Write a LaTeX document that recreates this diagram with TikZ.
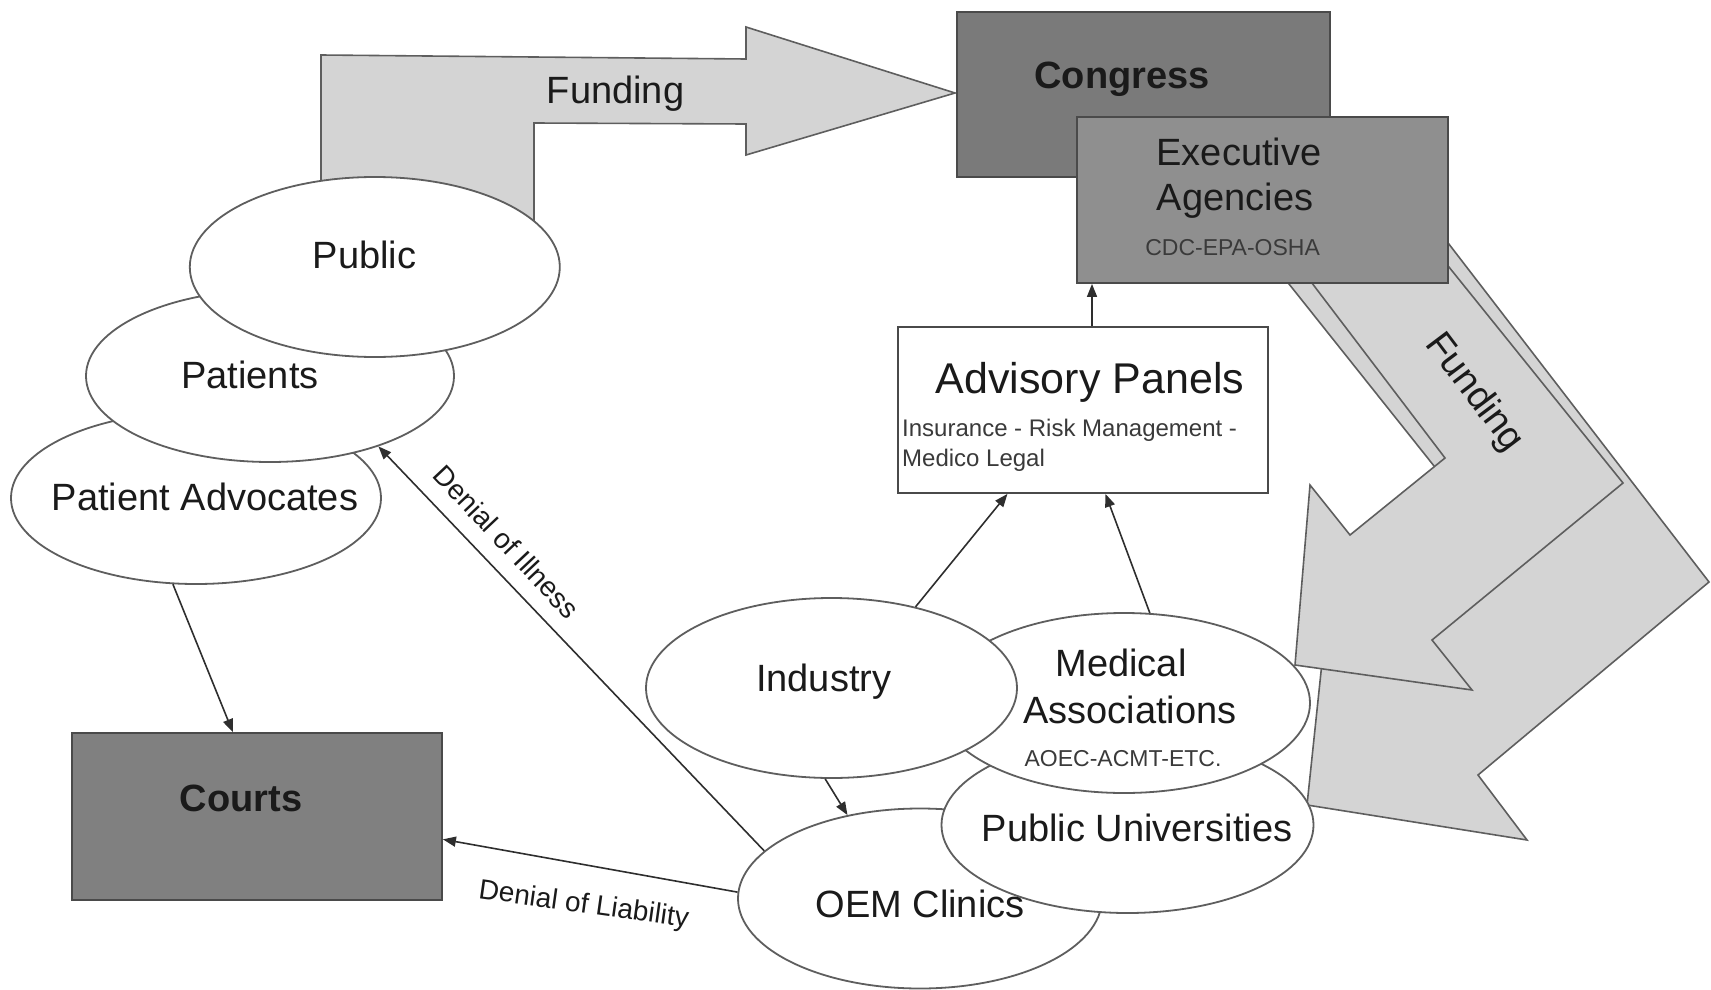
\documentclass[tikz,border=0pt]{standalone}
\usepackage{fontspec}
\setmainfont{Liberation Sans}
\usetikzlibrary{shapes.geometric,arrows.meta}

\definecolor{arrowfill}{HTML}{D4D4D4}
\definecolor{edgegray}{HTML}{5E5E5E}
\definecolor{boxedge}{HTML}{4A4A4A}
\definecolor{congressfill}{HTML}{7A7A7A}
\definecolor{execfill}{HTML}{8F8F8F}
\definecolor{courtsfill}{HTML}{808080}
\definecolor{ink}{HTML}{1A1A1A}
\definecolor{subink}{HTML}{3A3A3A}
\definecolor{linkgray}{HTML}{2E2E2E}

\tikzset{
  flow/.style={fill=arrowfill, draw=edgegray, line width=1.6pt, line join=miter},
  oval/.style 2 args={ellipse, draw=edgegray, fill=white, line width=1.8pt,
    inner sep=0pt, minimum width=#1, minimum height=#2},
  panel/.style 2 args={rectangle, draw=boxedge, line width=1.8pt,
    inner sep=0pt, minimum width=#1, minimum height=#2},
  txt/.style={inner sep=0pt, anchor=base, text=ink, font=\fontsize{38}{40}\selectfont},
  boldtxt/.style={inner sep=0pt, anchor=base, text=ink, font=\fontsize{38}{40}\selectfont\bfseries},
  smalltxt/.style={inner sep=0pt, anchor=base, text=subink, font=\fontsize{23}{25}\selectfont},
  slanttxt/.style={inner sep=0pt, anchor=center, text=ink, font=\fontsize{28}{30}\selectfont},
  link/.style={draw=linkgray, line width=1.6pt, -{Triangle[length=13pt,width=10pt]}},
}

\begin{document}
\begin{tikzpicture}[x=1pt,y=-1pt]
\useasboundingbox (0,0) rectangle (1711,990);

% ---- funding from the public up to Congress (bent block arrow) ----
\draw[flow] (321,240) -- (321,55) -- (746,59) -- (746,27) -- (955,93)
  -- (746,155) -- (746,124) -- (534,123) -- (534,240) -- cycle;
\node[txt] (fundL) at (615.5,103) {Funding};

% ---- funding from the agencies down to the institutions (two block arrows) ----
\draw[flow] (1238,220) -- (1497,545) -- (1379,642) -- (1331,577) -- (1307,805)
  -- (1527,840) -- (1478,775) -- (1709,582) -- (1415,200) -- cycle;
\draw[flow] (1264,220) -- (1445,458) -- (1350,535) -- (1310,485) -- (1295,665)
  -- (1472,690) -- (1432,640) -- (1623,483) -- (1403,210) -- cycle;
\node[txt, anchor=center, rotate=-53] (fundR) at (1474,393) {Funding};

% ---- government boxes ----
\node[panel={373}{165}, fill=congressfill] (congress) at (1143.5,94.5) {};
\node[boldtxt] (congressT) at (1122,88.3) {Congress};
\node[panel={371}{166}, fill=execfill] (exec) at (1262.5,200) {};
\node[txt] (execT1) at (1239,165) {Executive};
\node[txt] (execT2) at (1235,210) {Agencies};
\node[smalltxt] (execT3) at (1232.6,255) {CDC-EPA-OSHA};

% ---- public side ----
\node[oval={370}{172}] (padv) at (196,498) {};
\node[oval={368}{172}] (pat) at (270,376) {};
\node[oval={370}{180}] (public) at (374.8,267) {};
\node[txt] (publicT) at (364.5,268.3) {Public};
\node[txt] (patT) at (250,388.3) {Patients};
\node[txt] (padvT) at (205,510.9) {Patient Advocates};

\node[panel={370}{167}, fill=courtsfill] (courts) at (257,816.5) {};
\node[boldtxt] (courtsT) at (241,811.7) {Courts};

% ---- institutions cluster ----
\node[oval={364}{180}] (oem) at (920,898.5) {};
\node[oval={372}{176}] (univ) at (1127.5,825) {};
\node[oval={372}{180}] (med) at (1124,703) {};
\node[oval={371}{180}] (ind) at (831.5,688) {};
\node[txt] (indT) at (823.7,691.7) {Industry};
\node[txt] (medT1) at (1121,676.7) {Medical};
\node[txt] (medT2) at (1130,723.3) {Associations};
\node[smalltxt] (medT3) at (1123,766.7) {AOEC-ACMT-ETC.};
\node[txt] (univT) at (1137,841.7) {Public Universities};
\node[txt] (oemT) at (920,917.3) {OEM Clinics};

% ---- advisory panels ----
\node[panel={370}{166}, fill=white] (adv) at (1083,410) {};
\node[txt, font=\fontsize{43}{45}\selectfont] (advT) at (1090,393.3) {Advisory Panels};
\node[smalltxt, anchor=base west, font=\fontsize{24}{26}\selectfont] (advS1) at (902,436.7) {Insurance - Risk Management -};
\node[smalltxt, anchor=base west, font=\fontsize{24}{26}\selectfont] (advS2) at (902,466) {Medico Legal};

% ---- connectors ----
\coordinate (advX) at (1092,300);
\draw[link] (adv.north -| advX) -- (exec.south -| advX);
\draw[link] (ind.44) -- (adv.228.7);
\draw[link] (med.74) -- (adv.285.5);
\draw[link] (ind.266) -- (oem.131);
\draw[link] (padv.255.9) -- (courts.106.9);
\draw[link] (oem.163.5) -- (pat.327);
\draw[link] (oem.178.9) -- (courts.-7.2);

\node[slanttxt, rotate=-46.7] (illT) at (506.7,541.7) {Denial of Illness};
\node[slanttxt, rotate=-8] (liabT) at (583.7,905.6) {Denial of Liability};
\end{tikzpicture}
\end{document}
